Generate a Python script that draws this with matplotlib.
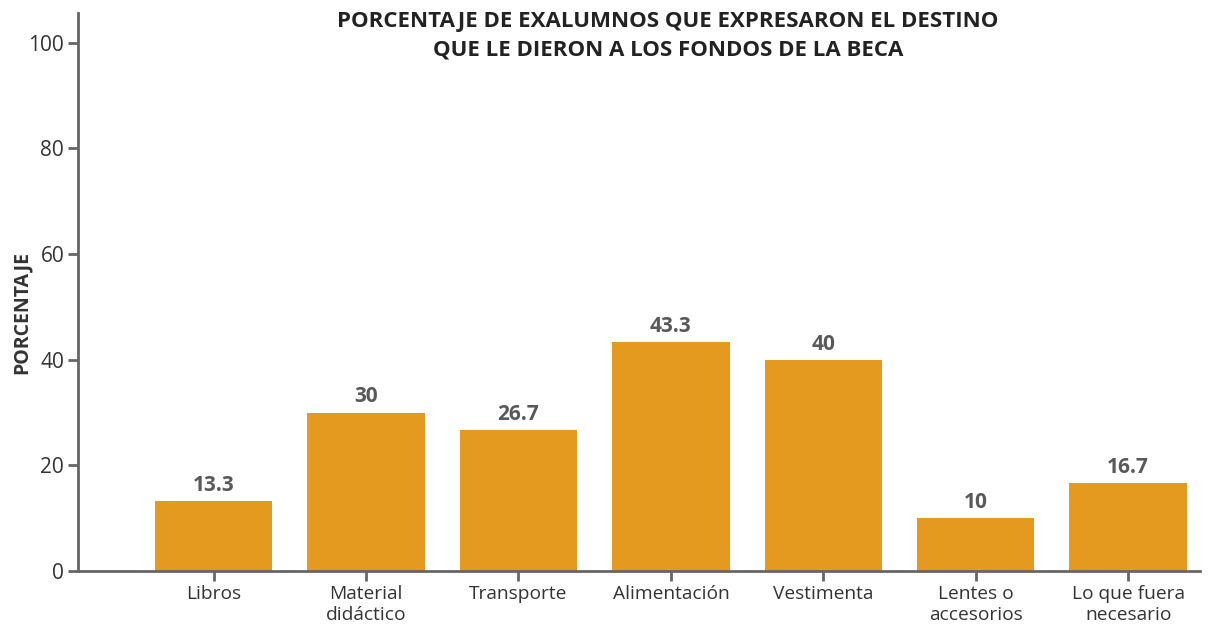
import matplotlib.pyplot as plt
import numpy as np

plt.rcParams['font.family'] = ['Open Sans', 'DejaVu Sans']

categories = ['Libros', 'Material\ndidáctico', 'Transporte', 'Alimentación',
              'Vestimenta', 'Lentes o\naccesorios', 'Lo que fuera\nnecesario']
values = [13.3, 30, 26.7, 43.3, 40, 10, 16.7]
labels = ['13.3', '30', '26.7', '43.3', '40', '10', '16.7']

bar_color = '#E49A1F'
axis_color = '#666666'
text_color = '#333333'

fig = plt.figure(figsize=(12.1, 6.29), dpi=100)
ax = fig.add_axes([0.0645, 0.092, 0.927, 0.887])

x = np.arange(len(categories))
bars = ax.bar(x, values, width=0.77, color=bar_color, zorder=2)

# value labels above each bar
for b, lab in zip(bars, labels):
    ax.text(b.get_x() + b.get_width() / 2, b.get_height() + 1.0, lab,
            ha='center', va='bottom', fontsize=15, fontweight='bold',
            color='#595959')

ax.set_xlim(-0.89, 6.47)
ax.set_ylim(0, 105.6)
ax.set_yticks([0, 20, 40, 60, 80, 100])
ax.set_xticks(x)
ax.set_xticklabels(categories, fontsize=13.8, color=text_color, linespacing=1.2)
ax.tick_params(axis='y', labelsize=15, labelcolor=text_color, color=axis_color,
               length=7, width=2, pad=3)
ax.tick_params(axis='x', color=axis_color, length=7, width=2, pad=3)

for side in ['top', 'right']:
    ax.spines[side].set_visible(False)
for side in ['left', 'bottom']:
    ax.spines[side].set_color(axis_color)
    ax.spines[side].set_linewidth(2)

ax.set_ylabel('PORCENTAJE', fontsize=14, fontweight='bold', color=text_color)
ax.yaxis.label.set_va('center')
ax.yaxis.set_label_coords(-0.0505, 0.464)

fig.text(0.552, 0.983, 'PORCENTAJE DE EXALUMNOS QUE EXPRESARON EL DESTINO\nQUE LE DIERON A LOS FONDOS DE LA BECA',
         ha='center', va='top', fontsize=16, fontweight='bold', color='#222222',
         linespacing=1.5)

fig.savefig('out.png', dpi=100)
